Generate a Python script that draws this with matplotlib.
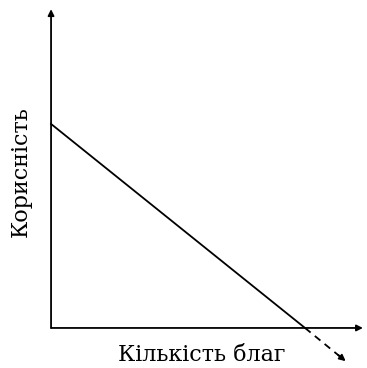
import matplotlib.pyplot as plt

# крива корисності (кількість благ -> корисність)
quantity = [0, 10]
utility = [8, 0]
# пунктирне продовження нижче нуля
quantity_ext = [10, 11.6]
utility_ext = [0, -1.3]

x_label = "Кількість благ"
y_label = "Корисність"

fig = plt.figure(figsize=(3.67, 3.68), dpi=100)
ax = fig.add_axes([0, 0, 1, 1])
ax.set_xlim(-2.01, 12.44)
ax.set_ylim(-1.57, 12.86)
ax.axis('off')

arrow = dict(arrowstyle='-|>', color='black', lw=1.3, mutation_scale=9,
             shrinkA=0, shrinkB=0)
# осі
ax.annotate('', xy=(12.28, 0), xytext=(0, 0), arrowprops=arrow)
ax.annotate('', xy=(0, 12.5), xytext=(0, 0), arrowprops=arrow)

ax.plot(quantity, utility, color='black', lw=1.3)
ax.plot(quantity_ext[:1] + [quantity_ext[1] - 0.15], utility_ext[:1] + [utility_ext[1] + 0.12],
        color='black', lw=1.3, linestyle=(0, (4, 3)))
ax.annotate('', xy=(quantity_ext[1], utility_ext[1]),
            xytext=(quantity_ext[1] - 0.3, utility_ext[1] + 0.245), arrowprops=arrow)

ax.text(5.94, -1.05, x_label, ha='center', va='center', fontsize=16,
        family='DejaVu Serif')
ax.text(-1.2, 6.12, y_label, ha='center', va='center', rotation=90,
        fontsize=16, family='DejaVu Serif')

fig.savefig('out.png', dpi=100)
